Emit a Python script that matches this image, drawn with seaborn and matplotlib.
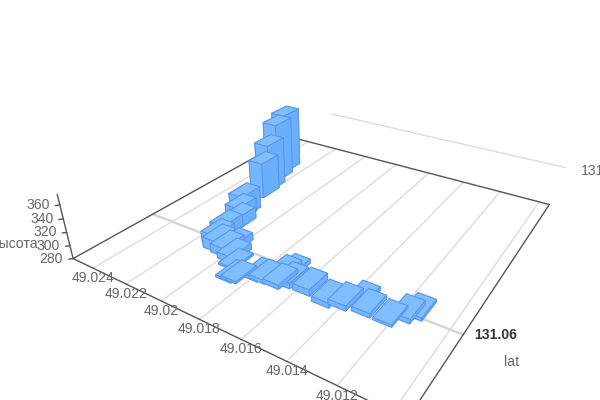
import numpy as np
import matplotlib
matplotlib.use("Agg")
import matplotlib.pyplot as plt
from mpl_toolkits.mplot3d import proj3d
import seaborn as sns

# данные
lon = [49.02305, 49.02276, 49.02240, 49.02224, 49.02177, 49.02170, 49.02130, 49.02137, 49.02115, 49.02085,
       49.02020, 49.02032, 49.01977, 49.01939, 49.01889, 49.01869, 49.01804, 49.01772, 49.01703, 49.01726,
       49.01700, 49.01668, 49.01576, 49.01473, 49.01410, 49.01361, 49.01315, 49.01223, 49.01176, 49.01146]
lat = [131.1097, 131.1027, 131.0952, 131.0907, 131.0772, 131.0747, 131.0712, 131.0657, 131.0606, 131.0590,
       131.0612, 131.0584, 131.0572, 131.0550, 131.0504, 131.0509, 131.0544, 131.0547, 131.0549, 131.0588,
       131.0604, 131.0566, 131.0568, 131.0555, 131.0568, 131.0599, 131.0577, 131.0576, 131.0609, 131.0633]
height = [379, 376, 357, 337, 314, 302, 298, 298, 298, 296,
          291, 293, 289, 283, 283, 283, 285, 285, 286, 286,
          286, 288, 289, 287, 287, 286, 286, 283, 286, 284]

lon_ticks = [49.024, 49.022, 49.02, 49.018, 49.016, 49.014, 49.012, 49.01]
lon_labels = ["49.024", "49.022", "49.02", "49.018", "49.016", "49.014", "49.012"]
height_ticks = [280, 300, 320, 340, 360]
lat_pointer = 131.06

XMIN, XMAX = 49.0253, 49.0095
YMIN, YMAX = 131.0316, 131.1316
ZMIN, ZMAX = 280, 375
BAR_X, BAR_Y = 0.00079, 0.0083

sns.set_theme(style="white")
plt.rcParams["font.family"] = ["Liberation Sans", "DejaVu Sans"]
TEXT = "#666666"
AXIS = "#555555"
GRID = "#dcdcdc"
FS = 10.1

fig = plt.figure(figsize=(6, 4), dpi=100)
W = 700
ax = fig.add_axes([(329 - 0.5135 * W) / 600, (200 - 0.5135 * W) / 400, W / 600, W / 400],
                  projection="3d", computed_zorder=False)
ax.set_axis_off()
ax.set_proj_type("persp", focal_length=0.1589)
ax.view_init(elev=28.8, azim=-57.2, roll=0)
ax.set_box_aspect((1, 1, 0.1967), zoom=0.6973)
ax.set_xlim(XMIN, XMAX)
ax.set_ylim(YMIN, YMAX)
ax.set_zlim(ZMIN, ZMAX)
ax.set_autoscale_on(False)


def label(x, y, z, s, dx=0, dy=0, **kw):
    # подпись со сдвигом в пикселях от точки на осях
    x2, y2, _ = proj3d.proj_transform(x, y, z, ax.get_proj())
    kw.setdefault("color", TEXT)
    kw.setdefault("fontsize", FS)
    ax.annotate(s, (float(x2), float(y2)), xytext=(dx, dy), textcoords="offset pixels",
                ha=kw.pop("ha", "center"), va="center", zorder=50, **kw)


# сетка
for t in lon_ticks:
    ax.plot([t, t], [YMIN, YMAX], [ZMIN, ZMIN], color=GRID, lw=1, zorder=1)
ax.plot([49.0223, 49.0091], [YMAX, YMAX], [345, 345], color=GRID, lw=1, zorder=1)
ax.plot([XMIN, XMAX], [lat_pointer, lat_pointer], [ZMIN, ZMIN], color="#d4d4d4", lw=1.7, zorder=2)

# оси
ax.plot([XMIN, XMAX, XMAX, XMIN, XMIN], [YMIN, YMIN, YMAX, YMAX, YMIN], [ZMIN] * 5, color=AXIS, lw=1, zorder=3)
ax.plot([XMIN, XMIN], [YMIN, YMIN], [ZMIN, ZMAX], color=AXIS, lw=1, zorder=3)
for t in height_ticks:
    ax.plot([XMIN, XMIN + 0.00012], [YMIN, YMIN - 0.0008], [t, t], color=AXIS, lw=1, zorder=3)
    label(XMIN, YMIN, t, str(t), dx=-10, dy=0, ha="right")
label(XMIN, YMIN, 314, "высота", dx=-53, dy=-8)

for t, s in zip(lon_ticks, lon_labels):
    label(t, YMIN, ZMIN, s, dx=0, dy=-10)

label(XMAX, lat_pointer, ZMIN, "131.06", dx=32, dy=0, color="#333333", fontweight="bold")
label(XMAX, lat_pointer, ZMIN, "lat", dx=48, dy=-27)
label(49.0091, YMAX, 345, "131", dx=15, dy=-3, ha="left")

# столбцы от дальних к ближним
u = (np.array(lon) - XMIN) / (XMAX - XMIN)
v = (np.array(lat) - YMIN) / (YMAX - YMIN)
order = np.argsort(0.475 * u - 0.736 * v)
faces = ["#80BFFF", "#80BFFF", "#74B7FF", "#74B7FF", "#6AAFFC", "#6AAFFC"]
for i, idx in enumerate(order):
    ax.bar3d(lon[idx] - BAR_X / 2, lat[idx] - BAR_Y / 2, ZMIN, BAR_X, BAR_Y, height[idx] - ZMIN,
             color=faces, edgecolor="#5A96EE", linewidth=0.7, shade=False, zorder=10 + i)

ax.set_xlim(XMIN, XMAX)
ax.set_ylim(YMIN, YMAX)
ax.set_zlim(ZMIN, ZMAX)
fig.savefig("out.png", dpi=100)
